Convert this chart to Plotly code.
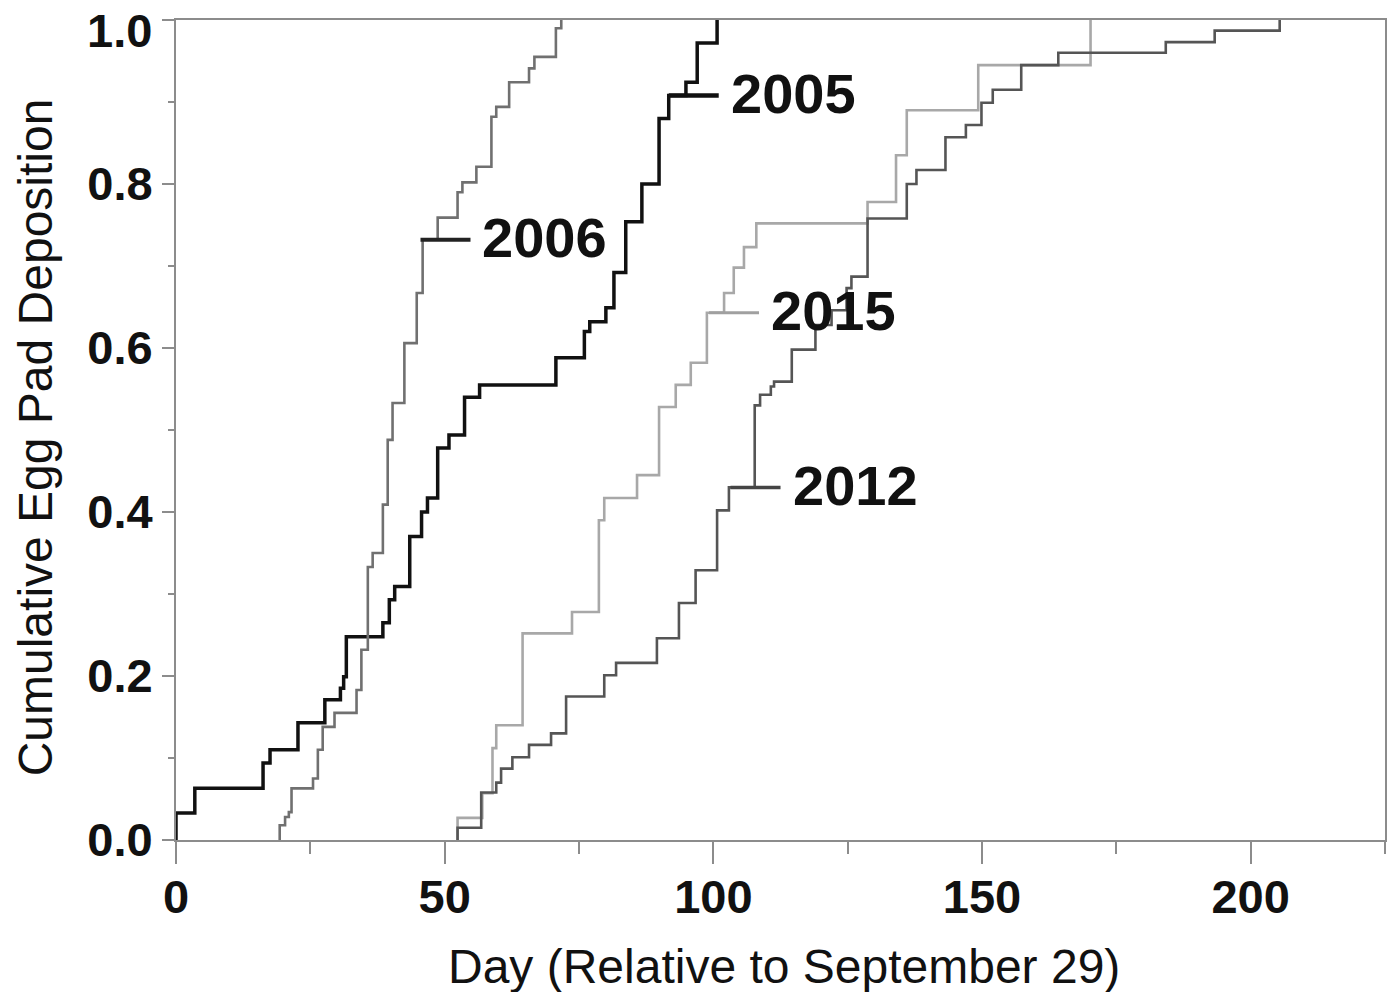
import plotly.graph_objects as go

# ---------------- data ----------------
days_2005 = [0, 0, 3.5, 16.2, 17.5, 22.7, 27.7, 30.6, 31.2, 31.7, 38.5, 39.7, 40.7, 43.5, 45.7,
             46.8, 48.7, 50.8, 53.7, 56.5, 70.7, 76.0, 77.0, 80.0, 81.5, 83.7, 86.7, 89.9,
             91.7, 94.9, 97.0, 100.7]
cum_2005 = [0, 0.033, 0.063, 0.094, 0.11, 0.143, 0.171, 0.185, 0.199, 0.248, 0.265, 0.293, 0.309,
            0.37, 0.40, 0.417, 0.478, 0.494, 0.54, 0.555, 0.588, 0.62, 0.632, 0.649, 0.692,
            0.754, 0.80, 0.88, 0.908, 0.924, 0.972, 1.0]

days_2006 = [19.3, 19.3, 20.3, 21.0, 21.5, 25.5, 26.4, 27.3, 29.5, 33.6, 34.5, 35.7, 36.6, 38.5,
             39.4, 40.3, 42.5, 44.8, 45.9, 48.7, 52.4, 53.3, 55.9, 58.7, 59.6, 62.0, 65.7,
             66.7, 70.7, 71.7]
cum_2006 = [0, 0.018, 0.028, 0.034, 0.063, 0.075, 0.11, 0.138, 0.155, 0.183, 0.232, 0.333, 0.35,
            0.409, 0.488, 0.533, 0.606, 0.667, 0.732, 0.759, 0.79, 0.802, 0.821, 0.882, 0.894,
            0.924, 0.941, 0.955, 0.99, 1.0]

days_2015 = [52.4, 52.4, 57.0, 58.9, 59.6, 64.5, 73.7, 78.7, 79.7, 85.8, 89.9, 93.0, 95.8, 98.8,
             102.0, 103.8, 105.7, 108.0, 128.7, 134.0, 136.0, 149.3, 170.2]
cum_2015 = [0, 0.027, 0.057, 0.112, 0.14, 0.252, 0.278, 0.39, 0.417, 0.445, 0.528, 0.555, 0.582,
            0.643, 0.667, 0.698, 0.723, 0.752, 0.778, 0.835, 0.89, 0.945, 1.0]

days_2012 = [52.4, 52.4, 56.8, 59.6, 60.5, 62.6, 65.7, 69.8, 72.6, 79.7, 81.9, 89.5, 93.6, 96.7,
             100.7, 102.9, 107.7, 108.7, 110.7, 111.3, 114.6, 119.0, 122.0, 124.8, 125.7, 128.7,
             136.0, 137.8, 143.2, 147.0, 149.9, 152.0, 157.3, 164.2, 184.2, 193.3, 205.4]
cum_2012 = [0, 0.015, 0.058, 0.07, 0.087, 0.101, 0.116, 0.13, 0.175, 0.201, 0.216, 0.246, 0.289,
            0.329, 0.402, 0.43, 0.53, 0.543, 0.553, 0.559, 0.598, 0.628, 0.646, 0.673, 0.687,
            0.758, 0.80, 0.817, 0.857, 0.872, 0.899, 0.915, 0.945, 0.96, 0.973, 0.987, 1.0]

label_years = ["2005", "2006", "2015", "2012"]
label_days = [91.7, 45.5, 99.2, 103.2]
label_values = [0.908, 0.732, 0.643, 0.43]

x_ticks = [0, 50, 100, 150, 200]
y_ticks = [0.0, 0.2, 0.4, 0.6, 0.8, 1.0]
y_tick_text = ["0.0", "0.2", "0.4", "0.6", "0.8", "1.0"]

x_title = "Day (Relative to September 29)"
y_title = "Cumulative Egg Pad Deposition"

# ---------------- styles ----------------
series = [
    ("2005", days_2005, cum_2005, "#111111", 3.5),
    ("2006", days_2006, cum_2006, "#707070", 2.6),
    ("2015", days_2015, cum_2015, "#a8a8a8", 2.6),
    ("2012", days_2012, cum_2012, "#555555", 2.6),
]
tick_line_colors = {"2005": "#111111", "2006": "#222222", "2015": "#a0a0a0", "2012": "#444444"}
tick_line_widths = {"2005": 4.5, "2006": 4, "2015": 3, "2012": 3.5}

fig = go.Figure()
for name, xs, ys, col, w in series:
    fig.add_trace(go.Scatter(x=xs, y=ys, mode="lines", line=dict(color=col, width=w, shape="hv"),
                             name=name, showlegend=False, cliponaxis=False, hoverinfo="skip"))

label_font = dict(family="Liberation Sans, Arial, sans-serif", size=56, color="#111111", weight="bold")
for yr, d, v in zip(label_years, label_days, label_values):
    fig.add_shape(type="line", xref="x", yref="y", xsizemode="pixel", xanchor=d,
                  x0=0, x1=50, y0=v, y1=v,
                  line=dict(color=tick_line_colors[yr], width=tick_line_widths[yr]))
    fig.add_annotation(x=d, y=v, xref="x", yref="y", text=yr, showarrow=False,
                       xanchor="left", yanchor="middle", xshift=60, yshift=2, font=label_font)

title_font = dict(family="Liberation Sans, Arial, sans-serif", size=48, color="#111111")
fig.add_annotation(x=0.503, y=-0.154, xref="paper", yref="paper", text=x_title, showarrow=False,
                   xanchor="center", yanchor="middle", font=title_font)
fig.add_annotation(x=-0.1155, y=0.4915, xref="paper", yref="paper", text=y_title, showarrow=False,
                   textangle=-90, xanchor="center", yanchor="middle", font=title_font)

frame_col = "#8c8c8c"
tickfont = dict(family="Liberation Sans, Arial, sans-serif", size=47, color="#111111", weight="bold")

# the top tick label sits at the very top edge of the page; draw it slightly lowered so it is not clipped
shown_y_text = [t if v < 1.0 else "" for t, v in zip(y_tick_text, y_ticks)]
fig.add_annotation(x=0, y=y_ticks[-1], xref="paper", yref="y", text=y_tick_text[-1], showarrow=False,
                   xanchor="right", yanchor="middle", xshift=-22, yshift=-10, font=tickfont)

# the page body adds an 8px offset, so the figure is sized/margined to compensate
fig.update_layout(
    width=1392, height=984,
    margin=dict(l=168, r=15, t=12, b=152),
    paper_bgcolor="white", plot_bgcolor="white",
    xaxis=dict(range=[0, 225], tickmode="array", tickvals=x_ticks, ticktext=[str(t) for t in x_ticks],
               showgrid=False, zeroline=False, showline=True, mirror=True, linecolor=frame_col,
               linewidth=2, ticks="outside", ticklen=22, tickwidth=1.5, tickcolor=frame_col,
               tickfont=tickfont, automargin=False, ticklabeloverflow="allow", ticklabelstandoff=-7,
               minor=dict(tickvals=[25, 75, 125, 175, 225], ticks="outside", ticklen=12,
                          tickwidth=1.5, tickcolor=frame_col)),
    yaxis=dict(range=[0, 1], tickmode="array", tickvals=y_ticks, ticktext=shown_y_text,
               showgrid=False, zeroline=False, showline=True, mirror=True, linecolor=frame_col,
               linewidth=2, ticks="outside", ticklen=12, tickwidth=1.5, tickcolor=frame_col,
               tickfont=tickfont, automargin=False, ticklabeloverflow="allow",
               minor=dict(tickvals=[0.1, 0.3, 0.5, 0.7, 0.9], ticks="outside", ticklen=6,
                          tickwidth=1.5, tickcolor=frame_col)),
)

fig.write_html("out.html")
